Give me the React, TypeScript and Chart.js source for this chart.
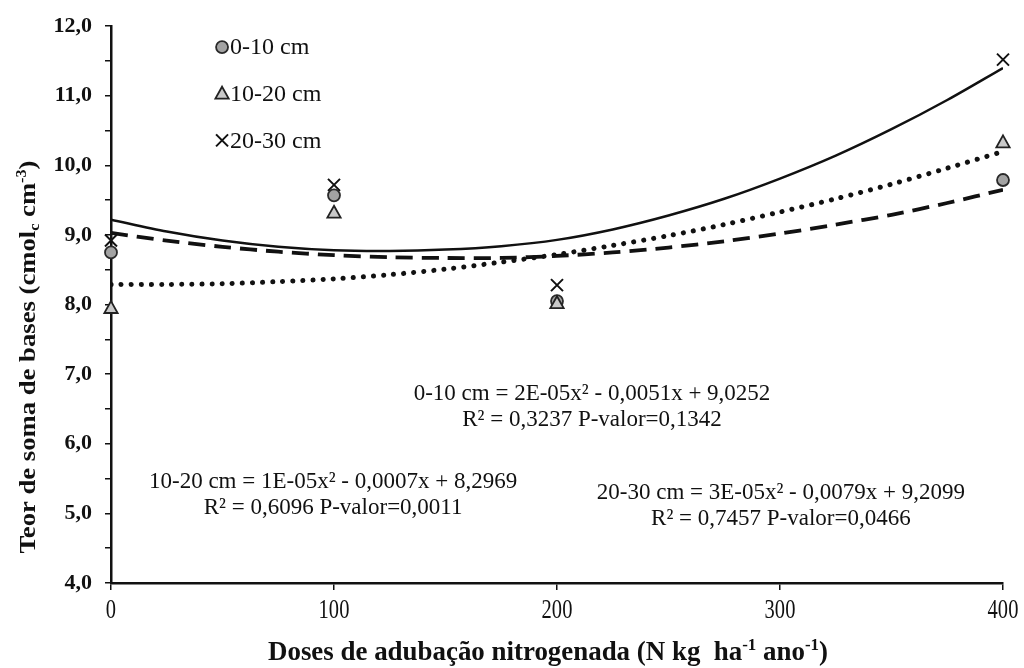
import React, { useEffect, useRef } from 'react';
import { Chart, registerables } from 'chart.js';

Chart.register(...registerables);

// ---- data ----
const doses = [0, 100, 200, 400];
const sb0_10 = [8.75, 9.57, 8.05, 9.79];
const sb10_20 = [7.95, 9.32, 8.02, 10.33];
const sb20_30 = [8.92, 9.72, 8.28, 11.52];

const curveX = [0, 25, 50, 75, 100, 125, 150, 175, 200, 225, 250, 275, 300, 325, 350, 375, 400];
const fit0_10 = [9.03, 8.92, 8.83, 8.76, 8.71, 8.68, 8.67, 8.67, 8.7, 8.75, 8.82, 8.91, 9.02, 9.15, 9.29, 9.46, 9.65];
const fit10_20 = [8.29, 8.29, 8.3, 8.33, 8.37, 8.43, 8.51, 8.61, 8.72, 8.85, 8.99, 9.15, 9.33, 9.52, 9.73, 9.96, 10.2];
const fit20_30 = [9.22, 9.05, 8.92, 8.83, 8.78, 8.77, 8.79, 8.84, 8.93, 9.08, 9.28, 9.52, 9.81, 10.14, 10.52, 10.94, 11.4];

const seriesNames = ['0-10 cm', '10-20 cm', '20-30 cm'];
const xTickValues = [0, 100, 200, 300, 400];
const yMin = 4;
const yMax = 12;

const equations = [
  ['0-10 cm = 2E-05x² - 0,0051x + 9,0252', 'R² = 0,3237 P-valor=0,1342'],
  ['10-20 cm = 1E-05x² - 0,0007x + 8,2969', 'R² = 0,6096 P-valor=0,0011'],
  ['20-30 cm = 3E-05x² - 0,0079x + 9,2099', 'R² = 0,7457 P-valor=0,0466'],
];
// anchor of each equation block, in data units (x, y of first line centre)
const equationAnchorX = [215.7, 99.6, 300.4];
const equationAnchorY = [6.72, 5.45, 5.3];
// legend anchors in data units
const legendX = 49.8;
const legendY = [11.7, 11.03, 10.36];

const SERIF = "'Liberation Serif', 'Times New Roman', serif";

type Style = 'circle' | 'triangle' | 'cross';
const markerStyles: Style[] = ['circle', 'triangle', 'cross'];

function drawMarker(ctx: CanvasRenderingContext2D, style: Style, cx: number, cy: number) {
  ctx.save();
  ctx.lineJoin = 'miter';
  if (style === 'circle') {
    ctx.beginPath();
    ctx.arc(cx, cy, 6, 0, Math.PI * 2);
    ctx.fillStyle = '#a3a3a3';
    ctx.fill();
    ctx.lineWidth = 1.8;
    ctx.strokeStyle = '#2a2a2a';
    ctx.stroke();
  } else if (style === 'triangle') {
    const r = 7;
    ctx.beginPath();
    ctx.moveTo(cx, cy - r);
    ctx.lineTo(cx + r * 0.95, cy + r * 0.7);
    ctx.lineTo(cx - r * 0.95, cy + r * 0.7);
    ctx.closePath();
    ctx.fillStyle = '#c9c9c9';
    ctx.fill();
    ctx.lineWidth = 1.8;
    ctx.strokeStyle = '#222';
    ctx.stroke();
  } else {
    const r = 6;
    ctx.beginPath();
    ctx.moveTo(cx - r, cy - r);
    ctx.lineTo(cx + r, cy + r);
    ctx.moveTo(cx + r, cy - r);
    ctx.lineTo(cx - r, cy + r);
    ctx.lineWidth = 2;
    ctx.strokeStyle = '#111';
    ctx.stroke();
  }
  ctx.restore();
}

type Seg = { t: string; k: 'n' | 'sub' | 'sup' };

function drawRich(
  ctx: CanvasRenderingContext2D,
  segs: Seg[],
  size: number,
  weight: string,
  cx: number,
  cy: number,
  targetWidth: number,
  rotate: boolean,
) {
  ctx.save();
  const small = Math.round(size * 0.62);
  const fontFor = (k: Seg['k']) => `${weight} ${k === 'n' ? size : small}px ${SERIF}`;
  let total = 0;
  const widths = segs.map((s) => {
    ctx.font = fontFor(s.k);
    const w = ctx.measureText(s.t).width;
    total += w;
    return w;
  });
  ctx.translate(cx, cy);
  if (rotate) ctx.rotate(-Math.PI / 2);
  const sx = targetWidth / total;
  ctx.scale(sx, 1);
  ctx.fillStyle = '#111';
  ctx.textBaseline = 'alphabetic';
  ctx.textAlign = 'left';
  let x = -total / 2;
  const base = size * 0.33;
  segs.forEach((s, i) => {
    ctx.font = fontFor(s.k);
    let y = base;
    if (s.k === 'sub') y = base + size * 0.2;
    if (s.k === 'sup') y = base - size * 0.38;
    ctx.fillText(s.t, x, y);
    x += widths[i];
  });
  ctx.restore();
}

const overlayPlugin = {
  id: 'overlayText',
  afterDraw(chart: any) {
    const ctx: CanvasRenderingContext2D = chart.ctx;
    const xs = chart.scales.x;
    const ys = chart.scales.y;

    // x tick labels (tall, narrow serif as in the scan)
    xTickValues.forEach((v) => {
      const px = xs.getPixelForValue(v);
      ctx.save();
      ctx.translate(px, xs.bottom - 85 + 28);
      ctx.scale(0.76, 1);
      ctx.font = `27px ${SERIF}`;
      ctx.fillStyle = '#111';
      ctx.textAlign = 'center';
      ctx.textBaseline = 'middle';
      ctx.fillText(String(v), 0, 0);
      ctx.restore();
    });

    // axis titles
    drawRich(
      ctx,
      [
        { t: 'Doses de adubação nitrogenada (N kg  ha', k: 'n' },
        { t: '-1', k: 'sup' },
        { t: ' ano', k: 'n' },
        { t: '-1', k: 'sup' },
        { t: ')', k: 'n' },
      ],
      27,
      'bold',
      548,
      651,
      560,
      false,
    );
    drawRich(
      ctx,
      [
        { t: 'Teor de soma de bases (cmol', k: 'n' },
        { t: 'c', k: 'sub' },
        { t: ' cm', k: 'n' },
        { t: '-3', k: 'sup' },
        { t: ')', k: 'n' },
      ],
      23,
      'bold',
      27,
      357,
      393,
      true,
    );

    // legend
    seriesNames.forEach((name, i) => {
      const px = xs.getPixelForValue(legendX);
      const py = ys.getPixelForValue(legendY[i]);
      drawMarker(ctx, markerStyles[i], px, py);
      ctx.save();
      ctx.font = `24px ${SERIF}`;
      ctx.fillStyle = '#111';
      ctx.textAlign = 'left';
      ctx.textBaseline = 'middle';
      ctx.fillText(name, px + 8, py + 1);
      ctx.restore();
    });

    // equations
    equations.forEach((lines, i) => {
      const px = xs.getPixelForValue(equationAnchorX[i]);
      const py = ys.getPixelForValue(equationAnchorY[i]);
      ctx.save();
      ctx.font = `23px ${SERIF}`;
      ctx.fillStyle = '#111';
      ctx.textAlign = 'center';
      ctx.textBaseline = 'middle';
      lines.forEach((ln, j) => ctx.fillText(ln, px, py + j * 26));
      ctx.restore();
    });
  },
};

const markerPlugin = {
  id: 'customMarkers',
  afterDatasetsDraw(chart: any) {
    const ctx: CanvasRenderingContext2D = chart.ctx;
    [0, 1, 2].forEach((di) => {
      const meta = chart.getDatasetMeta(di);
      meta.data.forEach((pt: any) => drawMarker(ctx, markerStyles[di], pt.x, pt.y));
    });
  },
};

export default function App() {
  const ref = useRef<HTMLCanvasElement | null>(null);

  useEffect(() => {
    document.body.style.margin = '0';
    document.body.style.background = '#fff';
    if (!ref.current) return;
    const pts = (ys: number[]) => doses.map((d, i) => ({ x: d, y: ys[i] }));
    const curve = (ys: number[]) => curveX.map((d, i) => ({ x: d, y: ys[i] }));

    const chart = new Chart(ref.current, {
      type: 'scatter',
      data: {
        datasets: [
          { label: seriesNames[0], data: pts(sb0_10), pointRadius: 0, showLine: false, clip: false } as any,
          { label: seriesNames[1], data: pts(sb10_20), pointRadius: 0, showLine: false, clip: false } as any,
          { label: seriesNames[2], data: pts(sb20_30), pointRadius: 0, showLine: false, clip: false } as any,
          {
            label: 'fit 0-10',
            data: curve(fit0_10),
            showLine: true,
            pointRadius: 0,
            borderColor: '#111',
            borderWidth: 3.8,
            borderDash: [17, 9],
            tension: 0.3,
          } as any,
          {
            label: 'fit 10-20',
            data: curve(fit10_20),
            showLine: true,
            pointRadius: 0,
            borderColor: '#111',
            borderWidth: 5,
            borderDash: [0.1, 10],
            borderCapStyle: 'round',
            tension: 0.3,
          } as any,
          {
            label: 'fit 20-30',
            data: curve(fit20_30),
            showLine: true,
            pointRadius: 0,
            borderColor: '#111',
            borderWidth: 2.5,
            tension: 0.3,
          } as any,
        ],
      },
      options: {
        responsive: false,
        animation: false,
        layout: { padding: { left: 0, top: 22, right: 21, bottom: 0 } },
        plugins: { legend: { display: false }, tooltip: { enabled: false } },
        scales: {
          x: {
            type: 'linear',
            min: 0,
            max: 400,
            ticks: { stepSize: 100, display: false },
            grid: { drawOnChartArea: false, tickLength: 7, color: '#111', lineWidth: 1.5 },
            border: { color: '#111', width: 2.5 },
            afterFit: (s: any) => {
              s.height = 85;
            },
          },
          y: {
            type: 'linear',
            min: yMin,
            max: yMax,
            ticks: {
              stepSize: 0.5,
              autoSkip: false,
              padding: 13,
              color: '#111',
              font: { family: SERIF, size: 22, weight: 'bold' },
              callback: (v: any) => (Number(v) % 1 === 0 ? Number(v).toFixed(1).replace('.', ',') : ''),
            },
            grid: { drawOnChartArea: false, tickLength: 6, color: '#111', lineWidth: 1.5 },
            border: { color: '#111', width: 2.5 },
            afterFit: (s: any) => {
              s.width = 111;
            },
          },
        },
      } as any,
      plugins: [markerPlugin, overlayPlugin],
    });
    return () => chart.destroy();
  }, []);

  return (
    <div style={{ width: 1024, height: 668 }}>
      <canvas ref={ref} width={1024} height={668} style={{ display: 'block' }} />
    </div>
  );
}
